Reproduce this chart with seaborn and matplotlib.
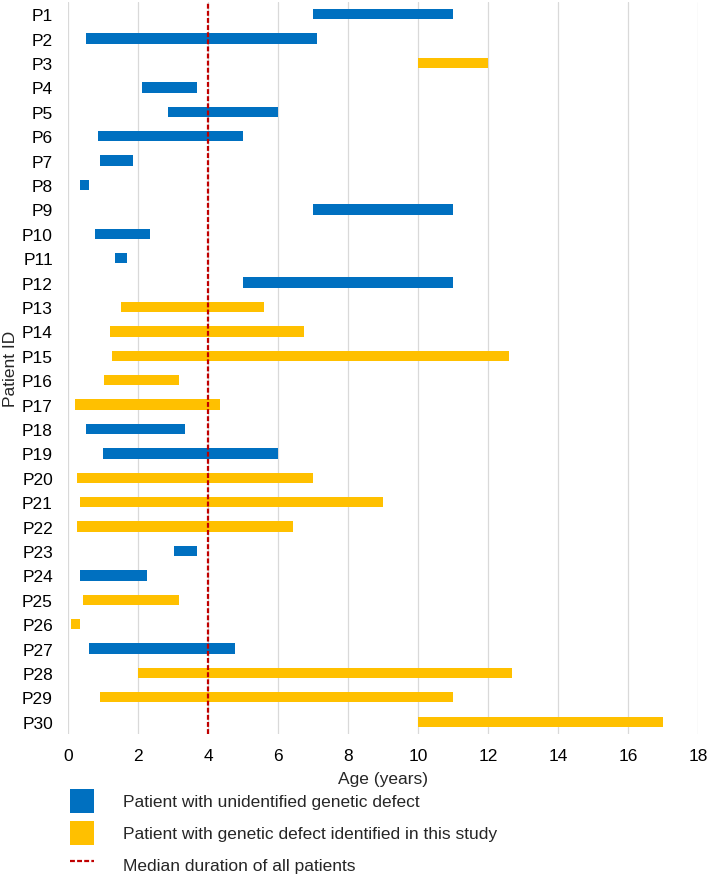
import pandas as pd
import matplotlib.pyplot as plt
import seaborn as sns
from matplotlib.patches import Patch
from matplotlib.lines import Line2D

patients = [f"P{i}" for i in range(1, 31)]
start = [7.0, 0.5, 10.0, 2.1, 2.85, 0.84, 0.92, 0.34, 7.0, 0.75,
         1.33, 5.0, 1.52, 1.18, 1.26, 1.01, 0.18, 0.5, 1.0, 0.26,
         0.34, 0.26, 3.02, 0.34, 0.43, 0.09, 0.6, 2.0, 0.92, 10.0]
end = [11.0, 7.1, 12.0, 3.68, 6.0, 5.0, 1.84, 0.6, 11.0, 2.34,
       1.67, 11.0, 5.6, 6.75, 12.59, 3.17, 4.34, 3.34, 6.0, 7.0,
       9.0, 6.42, 3.68, 2.25, 3.17, 0.34, 4.77, 12.67, 11.0, 17.0]
# 0 = unidentified defect, 1 = identified in this study
group = [0, 0, 1, 0, 0, 0, 0, 0, 0, 0,
         0, 0, 1, 1, 1, 1, 1, 0, 0, 1,
         1, 1, 0, 0, 1, 1, 0, 1, 1, 1]
median_age = 4.0
labels = ["Patient with unidentified genetic defect",
          "Patient with genetic defect identified in this study",
          "Median duration of all patients"]

BLUE = "#0070C0"
YELLOW = "#FFC000"
RED = "#C00000"


def main():
    sns.set_style("white")
    plt.rcParams["font.family"] = ["Liberation Sans", "DejaVu Sans"]
    fs = 12.5

    df = pd.DataFrame({"patient": patients, "start": start, "end": end, "group": group})
    df["duration"] = df["end"] - df["start"]

    fig = plt.figure(figsize=(7.09, 8.78), dpi=100)
    ax = fig.add_axes([0.0963, 0.1629, 0.8882, 0.8337])

    for g, col in [(0, BLUE), (1, YELLOW)]:
        sub = df[df["group"] == g]
        sns.barplot(data=sub, x="duration", y="patient", order=patients,
                    color=col, width=0.42, errorbar=None, left=sub["start"].values,
                    saturation=1, linewidth=0, ax=ax)

    ax.axvline(median_age, color=RED, lw=1.6, dashes=(2.2, 1.0), zorder=5)

    ax.set_xlim(0, 18)
    ax.set_xticks(range(0, 19, 2))
    ax.grid(axis="x", color="#D9D9D9", lw=0.9)
    ax.set_axisbelow(True)
    for s in ax.spines.values():
        s.set_visible(False)
    ax.tick_params(axis="both", length=0, labelsize=fs, colors="black")
    ax.tick_params(axis="y", pad=11)
    ax.tick_params(axis="x", pad=10)
    ax.set_xlabel("Age (years)", fontsize=fs, labelpad=6)
    ax.set_ylabel("Patient ID", fontsize=fs, labelpad=3)

    handles = [Patch(facecolor=BLUE, edgecolor="none"),
               Patch(facecolor=YELLOW, edgecolor="none"),
               Line2D([0], [0], color=RED, lw=1.6, dashes=(2.2, 1.0))]
    fig.legend(handles, labels, loc="upper left", bbox_to_anchor=(0.0987, 0.1005),
               frameon=False, fontsize=fs, handlelength=1.38, handleheight=1.745,
               handletextpad=1.67, labelspacing=0.46, borderaxespad=0, borderpad=0)

    fig.savefig("out.png", dpi=100)


if __name__ == "__main__":
    main()
